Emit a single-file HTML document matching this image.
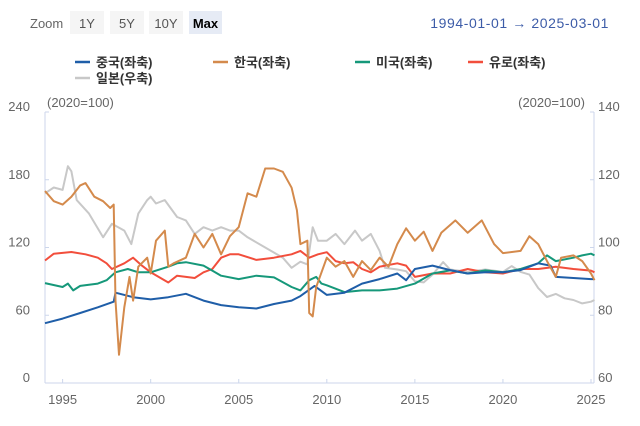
<!DOCTYPE html>
<html><head><meta charset="utf-8"><style>
body{margin:0;width:640px;height:426px;background:#fff;font-family:"Liberation Sans","Noto Sans CJK KR",sans-serif;overflow:hidden}
svg{display:block}
</style></head><body>
<svg id="c" width="640" height="426" xmlns="http://www.w3.org/2000/svg">
<g font-size="13">
<text x="30" y="28" fill="#666">Zoom</text>
<rect x="70" y="11" width="34" height="23" fill="#f5f5f5"/>
<text x="87" y="28" fill="#555" text-anchor="middle">1Y</text>
<rect x="110" y="11" width="34" height="23" fill="#f5f5f5"/>
<text x="127" y="28" fill="#555" text-anchor="middle">5Y</text>
<rect x="149" y="11" width="34" height="23" fill="#f5f5f5"/>
<text x="166" y="28" fill="#555" text-anchor="middle">10Y</text>
<rect x="189" y="11" width="33" height="23" fill="#e6ebf5"/>
<text x="205.5" y="28" fill="#000" font-weight="bold" text-anchor="middle">Max</text>
<text x="609" y="28" fill="#3d5ca8" text-anchor="end" font-size="14" letter-spacing="0.6">1994-01-01  →  2025-03-01</text>
</g>
<g id="legend" font-size="13" font-weight="bold" fill="#333"></g>
<g id="axes"></g>
<g id="series"></g>
</svg>
<script>
const leftTicks=[0,60,120,180,240];
const rightTicks=[60,80,100,120,140];
const xTicks=[1995,2000,2005,2010,2015,2020,2025];
const seriesNames=["중국(좌축)","한국(좌축)","미국(좌축)","유로(좌축)","일본(우축)"];
const chinaT=[1994,1995,1996,1997,1997.9,1998,1999,2000,2001,2002,2003,2004,2005,2006,2007,2008,2008.5,2009.3,2010,2011,2012,2013,2014,2014.5,2015,2016,2017,2018,2019,2020,2021,2022,2022.7,2023,2024,2025,2025.2];
const chinaV=[53,57,62,67,72,80,76,74,76,79,73,69,67,66,70,73,77,86,78,80,88,92,97,91,101,104,100,97,98,98,100,106,104,94,93,92,92];
const koreaT=[1994,1994.5,1995,1995.5,1996,1996.3,1996.8,1997.3,1997.7,1997.9,1998,1998.2,1998.5,1998.8,1999,1999.3,1999.8,2000,2000.3,2000.8,2001,2001.3,2002,2002.5,2003,2003.5,2004,2004.5,2005,2005.5,2006,2006.5,2007,2007.5,2008,2008.3,2008.5,2008.9,2009,2009.2,2009.4,2010,2010.5,2011,2011.5,2012,2012.5,2013,2013.5,2014,2014.5,2015,2015.5,2016,2016.5,2017.3,2018,2018.8,2019.5,2020,2021,2021.5,2022,2022.5,2023,2023.3,2024,2024.5,2025,2025.2];
const koreaV=[170,161,158,165,175,177,165,161,155,158,73,25,67,94,73,103,111,97,126,135,103,106,111,132,120,132,114,130,138,168,165,190,190,187,173,153,123,126,62,59,85,111,103,108,94,108,100,111,103,123,137,126,134,117,133,144,133,144,123,115,117,130,123,108,94,111,113,108,97,91];
const usaT=[1994,1995,1995.3,1995.6,1996,1997,1997.5,1998,1998.7,1999.3,2000,2001,2001.5,2002,2003,2003.5,2004,2005,2006,2007,2008,2008.5,2009,2009.4,2009.7,2010,2011,2012,2013,2014,2015,2016,2017,2018,2019,2020,2021,2022,2022.5,2023,2024,2024.5,2025,2025.2];
const usaV=[88.5,85,88,82,86,88,91,98,101,98,98,103,106,107,104,99.5,95,92,95,93.5,85,82,91,94,88,86.5,80.5,82,82,83.6,88,97,99.7,97,99.7,98,101,106,113,108,111,113,114.5,113];
const euroT=[1994,1994.5,1995.5,1996.3,1997,1997.5,1997.8,1998.5,1999,1999.5,2000,2001,2001.5,2002.5,2003,2003.5,2004,2004.5,2005,2006,2007,2008,2008.5,2009,2009.5,2010,2010.5,2011,2011.5,2012,2012.5,2013,2014,2014.5,2015,2016,2017,2018,2019,2020,2021,2022,2023,2024,2025,2025.2];
const euroV=[108.5,114.5,116,114,111,106,101,106,111,104,98,89,95,93,98,101,111,114,114,109,111,114,117,111,114,115.8,108,106,107,101,98,103,106,104,94,97,97,101,98,97,101,101,103,101,99.5,98];
const japanT=[1994,1994.5,1995,1995.3,1995.5,1995.8,1996.5,1997.3,1997.8,1998.5,1998.9,1999.3,1999.8,2000,2000.3,2000.8,2001.5,2002,2002.5,2003,2003.5,2004,2004.5,2005,2005.5,2006.5,2007.5,2008,2008.5,2008.9,2009.2,2009.5,2010,2010.5,2011,2011.6,2012,2012.5,2013,2013.3,2014,2014.5,2015,2015.5,2016,2016.6,2017,2018,2019,2020,2020.5,2021,2021.5,2022,2022.5,2023,2023.5,2024,2024.5,2025,2025.2];
const japanV=[116,117.7,117,124,122.5,114,110,103,107,105,101,110,114,115,113,114,109,108,104,106,105,106,105,105,103,100,97,94,95.8,95,106,102,102,104,101,105,102,104,99,94,93.5,93,90,89.7,92,95.7,93.5,92.8,93.5,92.8,94.5,92.8,92,88,85.4,86.3,85,84.5,83.5,84,84.5];

const NS="http://www.w3.org/2000/svg";
const X0=45,X1=594,YT=112,YB=383;
const xs=t=>X0+(t-1994)/(2025.17-1994)*(X1-X0);
const yl=v=>YB-v/240*(YB-YT);
const yr=v=>YB-(v-60)/80*(YB-YT);
function mk(tag,attrs,parent){const e=document.createElementNS(NS,tag);for(const k in attrs)e.setAttribute(k,attrs[k]);parent.appendChild(e);return e;}
const axes=document.getElementById('axes');
const ac="#ccd6eb";
let l=mk('line',{x1:X0,y1:YT,x2:X0,y2:YB,stroke:ac},axes);


l=mk('line',{x1:X1,y1:YT,x2:X1,y2:YB,stroke:ac},axes);


l=mk('line',{x1:X0,y1:YB,x2:X1,y2:YB,stroke:ac},axes);


leftTicks.forEach(v=>{
  const y=yl(v);
  const tk=mk('line',{x1:X0,y1:y,x2:X0+4,y2:y,stroke:ac},axes);
  
  
  const t=mk('text',{x:30,y:y-1,'text-anchor':'end','font-size':13,fill:'#666'},axes);
  t.textContent=v;
  
  
});
rightTicks.forEach(v=>{
  const y=yr(v);
  const tk=mk('line',{x1:X1-4,y1:y,x2:X1,y2:y,stroke:ac},axes);
  
  
  const t=mk('text',{x:598,y:y-1,'font-size':13,fill:'#666'},axes);
  t.textContent=v;
  
  
});
xTicks.forEach(v=>{
  const x=xs(v);
  const tk=mk('line',{x1:x,y1:YB-4,x2:x,y2:YB,stroke:ac},axes);
  
  
  const t=mk('text',{x:x,y:404,'text-anchor':'middle','font-size':13,fill:'#666'},axes);
  t.textContent=v;
  
  
});
let u=mk('text',{x:47,y:107,'font-size':13,fill:'#666'},axes);u.textContent="(2020=100)";


u=mk('text',{x:585,y:107,'font-size':13,fill:'#666','text-anchor':'end'},axes);u.textContent="(2020=100)";



const colors=["#1f5ea8","#d48a4c","#16987a","#f24e3c","#c8c8c8"];
const data=[[japanT,japanV,yr],[euroT,euroV,yl],[usaT,usaV,yl],[chinaT,chinaV,yl],[koreaT,koreaV,yl]];
const idx=[4,3,2,0,1];
const sg=document.getElementById('series');
data.forEach((d,i)=>{
  const [T,V,f]=d;
  const pts=T.map((t,j)=>xs(t).toFixed(1)+","+f(V[j]).toFixed(1)).join(" ");
  const p=mk('polyline',{points:pts,fill:'none',stroke:colors[idx[i]],'stroke-width':2,'stroke-linejoin':'round'},sg);
  
  
});
const lg=document.getElementById('legend');
const lpos=[[75,67],[213,67],[355,67],[468,67],[75,83]];
seriesNames.forEach((n,i)=>{
  const [x,y]=lpos[i];
  const g=mk('g',{},lg);
  
  
  mk('line',{x1:x,y1:y-5,x2:x+15,y2:y-5,stroke:colors[i],'stroke-width':2.5},g);
  const t=mk('text',{x:x+21,y:y},g);t.textContent=n;
});
</script>
</body></html>
